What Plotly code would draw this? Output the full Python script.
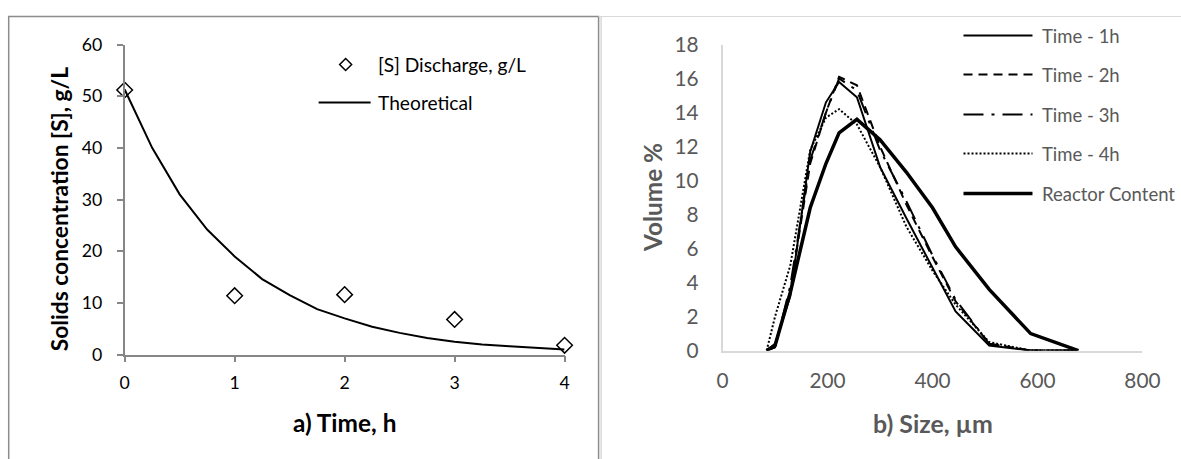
import plotly.graph_objects as go

# ---- panel a) solids concentration in the discharge ----
time_obs = [0, 1, 2, 3, 4]
solids_obs = [51.2, 11.4, 11.6, 6.8, 1.8]

time_theory = [0, 0.25, 0.5, 0.75, 1.0, 1.25, 1.5, 1.75, 2.0, 2.25, 2.5,
               2.75, 3.0, 3.25, 3.5, 3.75, 4.0]
solids_theory = [51.3, 40.0, 31.0, 24.2, 19.0, 14.6, 11.5, 8.8, 7.0, 5.4, 4.2,
                 3.2, 2.5, 1.95, 1.6, 1.3, 1.0]

# ---- panel b) particle size distributions ----
size_um = [84, 100, 129, 167, 197, 222, 256, 300, 350, 400, 444, 508, 587, 678]
vol_1h = [0, 0.4, 3.2, 11.7, 14.6, 15.8, 14.9, 10.8, 7.8, 4.9, 2.3, 0.3, 0, 0]
vol_2h = [0, 0.2, 3.5, 11.0, 14.0, 16.1, 15.6, 12.0, 8.6, 5.5, 2.9, 0.4, 0, 0]
vol_3h = [0, 0.2, 3.8, 11.2, 14.0, 16.0, 15.3, 11.8, 8.8, 5.6, 3.0, 0.4, 0, 0]
vol_4h = [0, 2.0, 5.0, 11.8, 13.7, 14.2, 13.3, 10.8, 7.3, 4.7, 2.7, 0.5, 0, 0]
vol_reactor = [0, 0.3, 3.4, 8.4, 11.0, 12.8, 13.6, 12.4, 10.5, 8.4, 6.1, 3.6, 1.0, 0]

series_names = ["Time - 1h", "Time - 2h", "Time - 3h", "Time - 4h", "Reactor Content"]
series_values = [vol_1h, vol_2h, vol_3h, vol_4h, vol_reactor]
series_dash = ["solid", "9px,6px", "20px,8px,3px,8px", "2px,2px", "solid"]
series_width = [2, 2, 2, 2, 3.5]

# figure size and the layout grid used to place everything
W, H = 1188, 465
SX, OX = 0.98, 5.3      # horizontal grid -> figure pixel
SY, OY = 0.946, 12.5    # vertical grid -> figure pixel
FS = 0.963              # font scale on the same grid
FONT = "Lato"
GRAY_TXT = "#595959"


def px(x):
    """grid column -> paper x"""
    return ((x - OX) / SX) / W


def py(y):
    """grid row -> paper y"""
    return 1 - ((y - OY) / SY) / H


def fsz(s):
    return round(s / FS, 1)


fig = go.Figure()

fig.add_trace(go.Scatter(
    x=time_theory, y=solids_theory, mode="lines", name="Theoretical",
    line=dict(color="black", width=2), xaxis="x", yaxis="y", showlegend=False))
fig.add_trace(go.Scatter(
    x=time_obs, y=solids_obs, mode="markers", name="[S] Discharge, g/L",
    marker=dict(symbol="diamond-open", size=12, color="black",
                line=dict(width=1.5, color="black")),
    cliponaxis=False, xaxis="x", yaxis="y", showlegend=False))

for name, vals, dash, w in zip(series_names, series_values, series_dash, series_width):
    fig.add_trace(go.Scatter(
        x=size_um, y=vals, mode="lines", name=name,
        line=dict(color="black", width=w, dash=dash),
        xaxis="x2", yaxis="y2", showlegend=False))

shapes = []
annotations = []

# panel frames
shapes.append(dict(type="rect", xref="paper", yref="paper",
                   x0=px(8), x1=px(598), y0=py(480), y1=py(15),
                   line=dict(color="#8c8c8c", width=1.5)))
shapes.append(dict(type="line", xref="paper", yref="paper",
                   x0=px(598), x1=px(1200), y0=py(15), y1=py(15),
                   line=dict(color="#d9d9d9", width=1)))
shapes.append(dict(type="line", xref="paper", yref="paper",
                   x0=px(600.5), x1=px(600.5), y0=py(15), y1=py(480),
                   line=dict(color="#d9d9d9", width=1.5)))

# legend of panel a)
shapes.append(dict(type="path", xref="paper", yref="paper",
                   path=(f"M {px(345)},{py(57)} L {px(351)},{py(63)} "
                         f"L {px(345)},{py(69)} L {px(339)},{py(63)} Z"),
                   line=dict(color="black", width=1.5), fillcolor="white"))
annotations.append(dict(x=px(375), y=py(63), xref="paper", yref="paper",
                        text="[S] Discharge, g/L", showarrow=False,
                        xanchor="left", yanchor="middle",
                        font=dict(family=FONT, size=fsz(18.5), color="black")))
shapes.append(dict(type="line", xref="paper", yref="paper",
                   x0=px(318), x1=px(370), y0=py(101), y1=py(101),
                   line=dict(color="black", width=2)))
annotations.append(dict(x=px(375), y=py(101), xref="paper", yref="paper",
                        text="Theoretical", showarrow=False,
                        xanchor="left", yanchor="middle",
                        font=dict(family=FONT, size=fsz(18.5), color="black")))

# legend of panel b)
leg_y = [34, 73, 113, 152, 192]
for name, dash, w, yy in zip(series_names, series_dash, series_width, leg_y):
    shapes.append(dict(type="line", xref="paper", yref="paper",
                       x0=px(963), x1=px(1032), y0=py(yy), y1=py(yy),
                       line=dict(color="black", width=w, dash=dash)))
    annotations.append(dict(x=px(1040), y=py(yy), xref="paper", yref="paper",
                            text=name, showarrow=False,
                            xanchor="left", yanchor="middle",
                            font=dict(family=FONT, size=fsz(17.8), color=GRAY_TXT)))

# axis titles
annotations.append(dict(x=px(58), y=py(208), xref="paper", yref="paper",
                        text="<b>Solids concentration [S], g/L</b>",
                        textangle=-90, showarrow=False,
                        xanchor="center", yanchor="middle",
                        font=dict(family=FONT, size=fsz(22), color="black")))
annotations.append(dict(x=px(344), y=py(421), xref="paper", yref="paper",
                        text="<b>a) Time, h</b>", showarrow=False,
                        xanchor="center", yanchor="middle",
                        font=dict(family=FONT, size=fsz(23.5), color="black")))
annotations.append(dict(x=px(652), y=py(196), xref="paper", yref="paper",
                        text="<b>Volume %</b>", textangle=-90, showarrow=False,
                        xanchor="center", yanchor="middle",
                        font=dict(family=FONT, size=fsz(23.5), color=GRAY_TXT)))
annotations.append(dict(x=px(932), y=py(421), xref="paper", yref="paper",
                        text="<b>b) Size, µm</b>", showarrow=False,
                        xanchor="center", yanchor="middle",
                        font=dict(family=FONT, size=fsz(24), color=GRAY_TXT)))

left_axis = dict(showline=True, linecolor="#868686", linewidth=1.5,
                 ticks="outside", ticklen=6, tickcolor="#868686", tickwidth=1.5,
                 showgrid=False, zeroline=False,
                 tickfont=dict(family=FONT, size=fsz(17), color="black"))
right_axis = dict(showline=True, linecolor="#d9d9d9", linewidth=1.5,
                  ticks="", showgrid=False, zeroline=False,
                  tickfont=dict(family=FONT, size=fsz(20), color=GRAY_TXT))

fig.update_layout(
    width=W, height=H,
    margin=dict(l=0, r=0, t=0, b=0),
    paper_bgcolor="white", plot_bgcolor="white",
    showlegend=False,
    xaxis=dict(domain=[px(124), px(564)], range=[0, 4], dtick=1,
               anchor="y", ticklabelstandoff=5, **left_axis),
    yaxis=dict(domain=[py(353), py(43)], range=[0, 60], dtick=10,
               anchor="x", ticklabelstandoff=11, **left_axis),
    xaxis2=dict(domain=[px(722), px(1142)], range=[0, 800], dtick=200,
                anchor="y2", ticklabelstandoff=11, **right_axis),
    yaxis2=dict(domain=[py(349), py(43)], range=[0, 18], dtick=2,
                anchor="x2", ticklabelstandoff=18, **right_axis),
    shapes=shapes,
    annotations=annotations,
)

fig.write_html("out.html")
